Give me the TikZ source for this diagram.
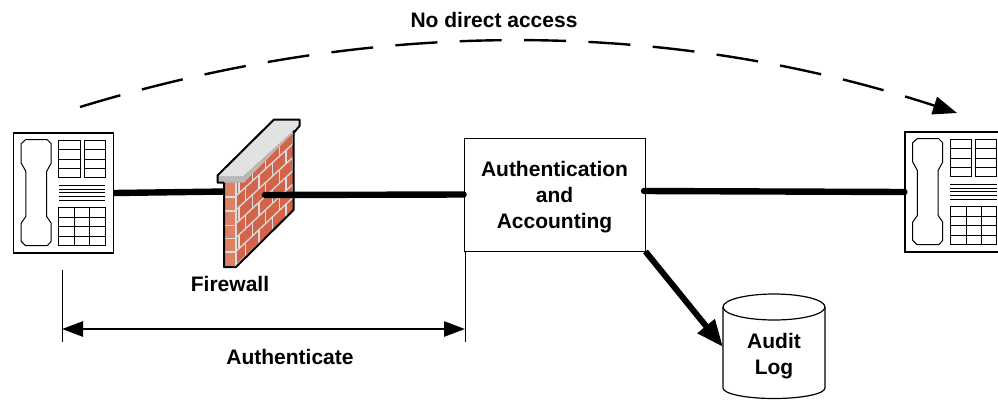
\documentclass[tikz,border=0pt]{standalone}
\usepackage{fontspec}
\setmainfont{Liberation Sans}
\usetikzlibrary{arrows.meta}
\definecolor{brickR}{HTML}{D2644C}
\definecolor{brickF}{HTML}{DE8062}
\definecolor{mortar}{HTML}{DEDCDA}
\definecolor{capTop}{HTML}{E2E2E2}
\definecolor{capFront}{HTML}{B8B8B8}
\tikzset{
  lbl/.style={font=\fontsize{21}{26}\selectfont\bfseries,inner sep=0pt,align=center},
  phonebox/.style={draw,line width=1.2pt,fill=white,minimum width=100pt,minimum height=120pt,inner sep=0pt},
  thick link/.style={line width=6.4pt,line cap=round},
  phone part/.style={line width=1pt,draw=black},
  mortar line/.style={mortar,line width=1.3pt},
  phonepic/.pic={
    \draw[phone part,line join=round] (12.7,7.3)--(34.3,7.3)--(38.3,11.3)--(38.3,30.7)--(33.7,39)--(33.7,84)--(38.3,90.7)--(38.3,109)--(34.3,113.3)--(12.7,113.3)--(8.3,109)--(8.3,90.7)--(13,84)--(13,39)--(8.3,30.7)--(8.3,11.3)--cycle;
    \foreach \xa/\xb in {46/67.3,71.3/92.3}{
      \draw[phone part] (\xa,8) rectangle (\xb,45);
      \foreach \yy in {17.3,26.7,36}{\draw[phone part] (\xa,\yy)--(\xb,\yy);}
    }
    \foreach \yy in {53,56.7,60,64,68}{\draw[phone part] (46,\yy)--(92.3,\yy);}
    \draw[phone part] (46,75) rectangle (92.3,113);
    \foreach \yy in {84.7,94.3,103.7}{\draw[phone part] (46,\yy)--(92.3,\yy);}
    \foreach \xx in {61.7,77}{\draw[phone part] (\xx,75)--(\xx,113);}
  }
}
\begin{document}
\begin{tikzpicture}[x=1pt,y=-1pt]
\useasboundingbox (0,0) rectangle (998,400);
\clip (0,0) rectangle (998,400);

% telephones
\node[phonebox] (phoneL) at (63.5,193) {};
\pic at (phoneL.north west) {phonepic};
\node[phonebox] (phoneR) at (955,192) {};
\pic at (phoneR.north west) {phonepic};

% left link runs behind the wall
\coordinate (fwBack) at (226,191.5);
\draw[line width=6.4pt] (phoneL.east) -- (fwBack);

% firewall
\fill[brickF] (224,182) rectangle (236,267);
\fill[brickR] (236,182) -- (293.5,130) -- (293.5,210) -- (236,267) -- cycle;
\begin{scope}
  \clip (224,182) rectangle (236,267);
  \foreach \yy in {197,211,225.3,238.7,252}{\draw[mortar line] (224,\yy)--(236,\yy);}
\end{scope}
\begin{scope}
  \clip (236,182) -- (293.5,130) -- (293.5,210) -- (236,267) -- cycle;
  \foreach \k in {-1,...,6}{
    \pgfmathsetmacro{\ya}{182+13.9*\k}
    \pgfmathsetmacro{\yb}{130+13.4*\k}
    \draw[mortar line] (236,\ya)--(293.5,\yb);
    \pgfmathsetmacro{\offs}{mod(\k+2,2)==0 ? 0 : 6.7}
    \foreach \j in {0,1,2,3,4}{
      \pgfmathsetmacro{\ss}{3+\offs+13.4*\j}
      \pgfmathsetmacro{\fr}{\ss/57.5}
      \pgfmathsetmacro{\ytop}{\ya+(\yb-\ya)*\fr}
      \pgfmathsetmacro{\xx}{236+\ss}
      \draw[mortar line] (\xx,\ytop)--(\xx,\ytop+13.7);
    }
  }
\end{scope}
\draw[mortar line] (236,183) -- (236,266);
\draw[line width=2pt,line join=round] (224,182) -- (224,267) -- (236,267) -- (293.5,210) -- (293.5,130);
\fill[capFront] (218,176) -- (244,176) -- (299,126) -- (293.5,132.5) -- (244,182.5) -- (218,182.5) -- cycle;
\fill[capTop] (218,176) -- (274,120) -- (299,120) -- (299,125) -- (243,176) -- cycle;
\draw[line width=2pt,line join=round] (224,182.5) -- (217.5,182.5) -- (217.5,175.5) -- (274,119.5) -- (299.5,119.5) -- (299.5,126) -- (293.5,133);
\node[lbl] (fwLabel) at (230,284) {Firewall};

% authentication box
\node[draw,line width=0.9pt,fill=white,minimum width=181pt,minimum height=113pt,inner sep=0pt] (auth) at (554.5,194.5) {};
\node[lbl] (authText) at (554.5,197) {Authentication\\and\\Accounting};

% links
\coordinate (fwFront) at (265,195);
\draw[thick link] (fwFront) -- (auth.west);
\coordinate (authOut) at (644,191);
\draw[thick link] (authOut) -- (phoneR.west);

% audit log
\draw[line width=1.2pt,fill=white] (723,307) -- (723,388) arc[start angle=180,end angle=0,x radius=51,y radius=10.5] -- (825,307);
\draw[line width=1.2pt,fill=white] (774,307) ellipse[x radius=51,y radius=13];
\coordinate (logIn) at (723,347);
\node[lbl] (log) at (774,356) {Audit\\Log};
\coordinate (authCorner) at (auth.south east);
\draw[line width=6pt,-{Triangle[length=27pt,width=21pt]}] (authCorner) -- (logIn);

% dashed arc
\coordinate (arcA) at (80,107);
\coordinate (arcB) at (957,113);
\draw[line width=2.4pt,dash pattern=on 42pt off 22.4pt,-{Triangle[length=24pt,width=18pt]}] (arcA) .. controls (372,18) and (665,18) .. (arcB);
\node[lbl] (noAccess) at (494,20) {No direct access};

% authenticate dimension
\coordinate (dimA) at (62,270);
\coordinate (dimB) at (62,342);
\coordinate (dimC) at (465,251);
\coordinate (dimD) at (465,342);
\draw[line width=1pt] (dimA) -- (dimB);
\draw[line width=1pt] (dimC) -- (dimD);
\coordinate (spanA) at (62,329);
\coordinate (spanB) at (465,329);
\draw[line width=2.6pt,{Triangle[length=21pt,width=15pt]}-{Triangle[length=21pt,width=15pt]}] (spanA) -- (spanB);
\node[lbl] (authLabel) at (290,357) {Authenticate};
\end{tikzpicture}
\end{document}
